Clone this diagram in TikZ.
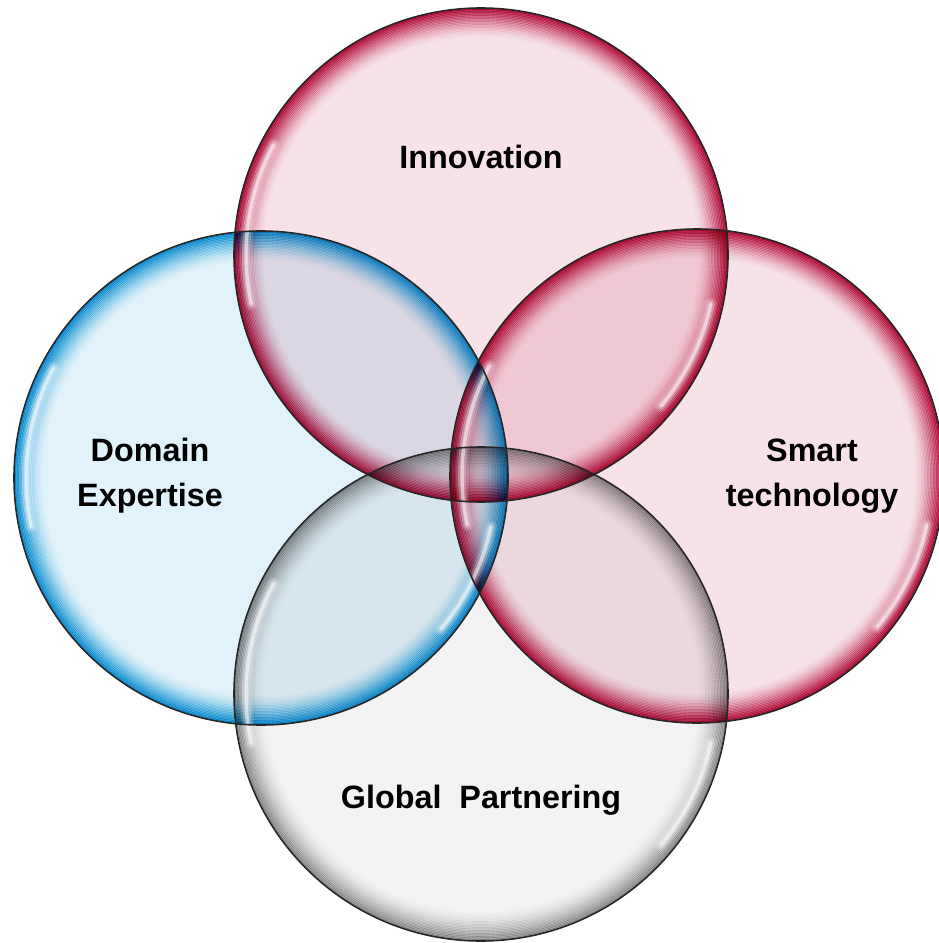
\documentclass[tikz,border=0pt]{standalone}
\usepackage{fontspec}
\setmainfont{Liberation Sans}
\definecolor{rose}{RGB}{196,22,78}
\definecolor{rosefill}{RGB}{247,226,232}
\definecolor{sky}{RGB}{22,166,222}
\definecolor{skyfill}{RGB}{226,242,250}
\definecolor{ash}{RGB}{165,165,165}
\definecolor{ashfill}{RGB}{243,243,243}
\begin{document}
\begin{tikzpicture}[x=0.02cm,y=-0.02cm,
    label text/.style={font=\fontsize{18.4}{25.5}\selectfont\bfseries,align=center,text=black},
    rim line/.style={line width=1.1pt},
    shine/.style={white,line cap=round},
    outline/.style={black!85,line width=0.9pt}]
  \useasboundingbox (0,0) rectangle (938,943);
  \coordinate (inno) at (481,255);
  \coordinate (dom) at (261,478);
  \coordinate (smart) at (697,476);
  \coordinate (glob) at (481,694);
  % pale discs and coloured rims
  \begin{scope}[blend mode=multiply]
    \foreach \c/\fil in {inno/rosefill,dom/skyfill,smart/rosefill,glob/ashfill}
      \fill[\fil] (\c) circle[radius=247];
    \foreach \c/\rim in {inno/rose,dom/sky,smart/rose,glob/ash} {
      \foreach \k in {0,...,19} {
        \pgfmathsetmacro\op{0.95*(1-\k/20)^1.7}
        \draw[rim line,\rim,draw opacity=\op] (\c) circle[radius=246.2-\k*1.5];
      }
    }
  \end{scope}
  % highlights
  \foreach \c in {inno,dom,smart,glob} {
    \foreach \w/\o in {7pt/0.15,4.5pt/0.25,2pt/0.55} {
      \draw[shine,line width=\w,opacity=\o] (\c) ++(168:235) arc[start angle=168,end angle=208,radius=235];
      \draw[shine,line width=\w,opacity=\o] (\c) ++(12:235) arc[start angle=12,end angle=40,radius=235];
    }
  }
  % outlines
  \foreach \c in {inno,dom,smart,glob}
    \draw[outline] (\c) circle[radius=247];
  % labels
  \node[label text] (innoText) at (481,157) {Innovation};
  \node[label text] (domText) at (150,476) {Domain\\Expertise};
  \node[label text] (smartText) at (812,476) {Smart\\technology};
  \node[label text] (globText) at (481,800) {Global\ \ Partnering};
\end{tikzpicture}
\end{document}
